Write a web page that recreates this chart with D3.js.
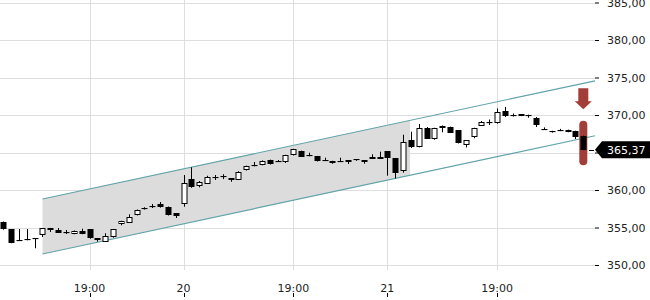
<!DOCTYPE html>
<html>
<head>
<meta charset="utf-8">
<style>
  body { margin: 0; background: #fff; }
  svg { display: block; font-family: "DejaVu Sans", sans-serif; }
</style>
</head>
<body>
<svg id="chart" width="650" height="300"></svg>
<script src="https://d3js.org/d3.v7.min.js"></script>
<script>
// candles, one per index
const opens = [355.7,354.8,353.4,353.5,353.56,353.91,354.93,354.67,354.38,354.13,354.57,354.76,353.56,353.11,353.69,355.43,355.69,356.67,357.64,357.85,
  358.09,357.77,356.89,358.09,361.47,360.57,360.89,361.67,361.75,361.24,361.43,362.67,363.33,363.33,364.0,363.9,363.69,364.67,365.2,364.67,
  364.53,364.0,363.87,363.91,364.0,364.09,364.0,364.44,364.44,365.2,364.23,362.57,366.67,365.77,368.33,366.77,368.23,368.4,368.0,366.0,
  366.97,368.6,369.05,368.89,370.53,370.0,370.09,370.04,369.56,368.2,367.87,368.0,368.0,367.87,367.2];
const closes = [354.8,353.0,353.25,353.33,353.43,354.89,354.67,354.31,354.42,354.57,354.13,353.56,353.33,353.87,354.76,355.87,356.44,357.33,357.47,357.87,
  357.69,356.67,356.44,360.89,360.44,361.11,361.77,361.72,361.8,361.56,362.44,363.2,363.2,363.91,363.47,363.8,364.67,365.47,364.44,364.53,
  363.87,363.91,363.56,363.77,363.73,363.91,363.73,364.23,364.23,364.23,362.23,366.44,365.77,368.27,366.89,368.23,368.53,367.64,366.23,366.6,
  368.23,369.13,369.07,370.36,369.91,370.0,369.87,369.91,368.57,368.2,367.69,368.0,367.77,367.03,365.37];
const highs = [355.8,354.8,354.8,354.8,353.56,354.9,354.95,354.93,354.67,354.6,354.84,354.8,353.6,354.23,354.8,355.9,356.76,357.4,357.7,358.13,
  358.4,357.8,356.9,362.0,363.03,361.2,361.9,362.0,362.1,361.6,362.5,363.25,363.73,363.95,364.05,364.0,364.7,365.5,365.25,364.97,
  364.55,364.31,363.9,364.31,364.0,364.1,364.0,364.76,365.11,365.2,364.25,367.37,367.77,368.8,368.4,368.3,368.6,368.45,368.0,366.65,
  368.3,369.2,369.4,370.87,371.07,370.2,370.1,370.05,369.73,368.35,367.9,368.15,368.05,367.9,367.25];
const lows = [354.7,352.9,353.25,353.3,352.23,353.73,354.4,354.3,354.13,354.1,354.1,353.5,353.11,353.1,353.65,355.3,355.6,356.6,357.4,357.6,
  357.65,356.6,356.27,357.77,360.3,360.36,360.8,361.33,361.45,361.1,361.4,362.6,363.15,363.3,363.4,363.75,363.6,364.6,364.4,364.5,
  363.8,363.9,363.5,363.75,363.47,363.9,363.51,364.2,364.2,361.91,361.53,362.31,365.6,365.69,366.85,366.7,367.69,367.6,366.2,365.67,
  366.9,368.55,368.67,368.85,369.73,369.8,369.85,369.64,368.4,368.0,367.65,367.85,367.7,366.8,365.3];

// axis ticks
const yTicks = [350, 355, 360, 365, 370, 375, 380, 385];
const xTickIdx = [11, 23, 37, 49, 63];
const xTickText = ["19:00", "20", "19:00", "21", "19:00"];

// trend channel (index, upper, lower) and shaded part
const channelIdx = [5, 75.5];
const channelUpper = [358.8, 374.56];
const channelLower = [351.47, 367.23];
const shadeEndIdx = 51.9;

const lastPrice = 365.37;
const markerPad = 2;

const W = 650, H = 300;
const plotRight = 595, plotBottom = 270;
const red = "#a23d37", teal = "#62a3aa";

const x = d3.scaleLinear().domain([0, 74]).range([3.3, 583.3]);
const y = d3.scaleLinear().domain([350, 385]).range([265, 2.5]);

const svg = d3.select("#chart");
const fmt = d3.formatLocale({decimal: ",", thousands: ".", grouping: [3], currency: ["", ""]}).format(".2f");
const crisp = v => Math.round(v) + 0.5;
const ly = y(lastPrice);

// grid
svg.append("g").selectAll("line").data(yTicks).join("line")
  .attr("x1", 0).attr("x2", plotRight)
  .attr("y1", d => crisp(y(d))).attr("y2", d => crisp(y(d)))
  .attr("stroke", "#dedede");
svg.append("g").selectAll("line").data(xTickIdx).join("line")
  .attr("x1", d => crisp(x(d))).attr("x2", d => crisp(x(d)))
  .attr("y1", 0).attr("y2", plotBottom)
  .attr("stroke", "#dedede");

// channel
const lineAt = (arr, i) => arr[0] + (arr[1] - arr[0]) * (i - channelIdx[0]) / (channelIdx[1] - channelIdx[0]);
const shade = [
  [channelIdx[0], channelUpper[0]], [shadeEndIdx, lineAt(channelUpper, shadeEndIdx)],
  [shadeEndIdx, lineAt(channelLower, shadeEndIdx)], [channelIdx[0], channelLower[0]]
];
svg.append("path")
  .attr("d", d3.line().x(d => x(d[0])).y(d => y(d[1]))(shade) + "Z")
  .attr("fill", "#dcdcdc");
[channelUpper, channelLower].forEach(arr => {
  svg.append("line")
    .attr("x1", x(channelIdx[0])).attr("y1", y(arr[0]))
    .attr("x2", x(channelIdx[1])).attr("y2", y(arr[1]))
    .attr("stroke", teal).attr("stroke-width", 1.2);
});

// signal marker on last candle
const li = opens.length - 1;
const cx = x(li);
const mTop = y(highs[li] + markerPad), mBot = y(lows[li] - markerPad);
svg.append("rect")
  .attr("x", cx - 4).attr("width", 8)
  .attr("y", mTop).attr("height", mBot - mTop)
  .attr("rx", 4).attr("fill", red);
const tip = mTop - 11.5;
svg.append("path")
  .attr("d", `M${cx - 5},${tip - 21}H${cx + 5}V${tip - 8}H${cx + 8.5}L${cx},${tip}L${cx - 8.5},${tip - 8}H${cx - 5}Z`)
  .attr("fill", red);

// candles
const idx = d3.range(opens.length);
const cg = svg.append("g");
cg.selectAll("line").data(idx).join("line")
  .attr("x1", i => crisp(x(i))).attr("x2", i => crisp(x(i)))
  .attr("y1", i => y(highs[i])).attr("y2", i => y(lows[i]))
  .attr("stroke", "#000");
cg.selectAll("rect").data(idx).join("rect")
  .attr("x", i => crisp(x(i)) - 2.5).attr("width", 5)
  .attr("y", i => Math.round(y(Math.max(opens[i], closes[i]))) + 0.5)
  .attr("height", i => Math.max(0.1, Math.round(Math.abs(y(opens[i]) - y(closes[i]))) - 1))
  .attr("fill", i => closes[i] > opens[i] ? "#fff" : "#000")
  .attr("stroke", "#000");

// y axis (the label under the last-price tag is hidden by it)
const yAxis = svg.append("g")
  .attr("transform", `translate(${plotRight},0)`)
  .call(d3.axisRight(y).tickValues(yTicks).tickSize(4).tickPadding(8)
    .tickFormat(d => Math.abs(y(d) - ly) < 12 ? "" : fmt(d)));
yAxis.select(".domain").remove();
yAxis.selectAll("text").attr("font-size", 11).attr("font-family", "DejaVu Sans").attr("fill", "#222");
yAxis.selectAll("line").attr("stroke", "#000");

// x axis labels with small ticks underneath
const xg = svg.append("g");
xg.selectAll("text").data(xTickIdx).join("text")
  .attr("x", d => x(d)).attr("y", 292)
  .attr("text-anchor", "middle").attr("font-size", 11).attr("fill", "#222")
  .text((d, k) => xTickText[k]);
xg.selectAll("line").data(xTickIdx).join("line")
  .attr("x1", d => crisp(x(d))).attr("x2", d => crisp(x(d)))
  .attr("y1", 293).attr("y2", 297).attr("stroke", "#000");

// last price tag
svg.append("line").attr("x1", plotRight - 6).attr("x2", plotRight - 1)
  .attr("y1", crisp(ly)).attr("y2", crisp(ly)).attr("stroke", "#000");
svg.append("path")
  .attr("d", `M${plotRight},${ly}L${plotRight + 7},${ly - 8.5}H${W}V${ly + 8.5}H${plotRight + 7}Z`)
  .attr("fill", "#000");
svg.append("text")
  .attr("x", plotRight + 12).attr("y", ly).attr("dy", "0.35em")
  .attr("font-size", 11).attr("fill", "#fff")
  .text(fmt(lastPrice));
</script>
</body>
</html>
